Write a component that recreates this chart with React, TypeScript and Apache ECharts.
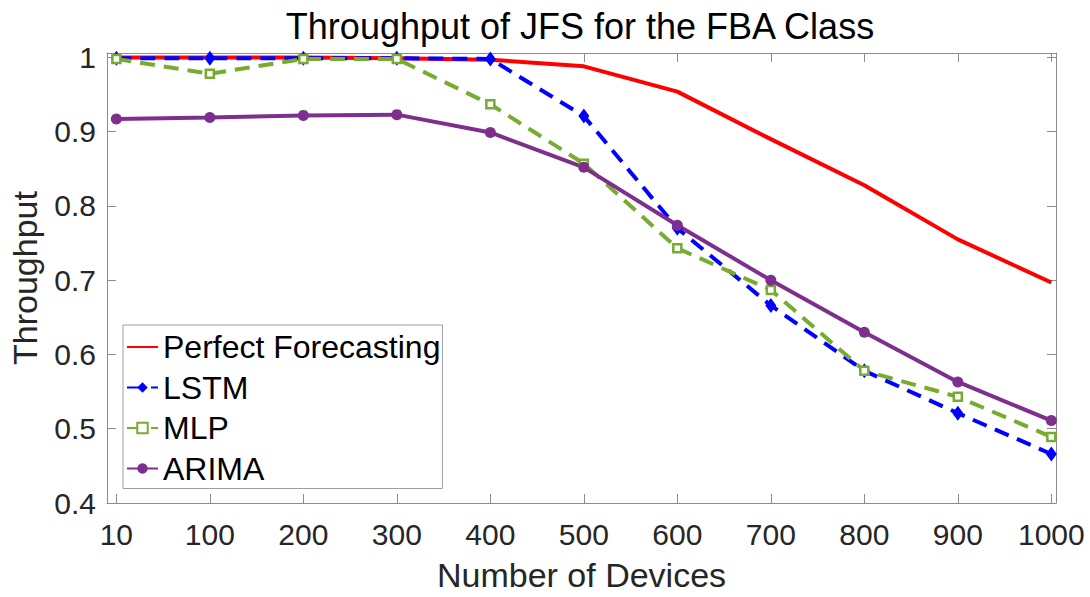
import React, { useEffect, useRef } from "react";
import * as echarts from "echarts";

// Device counts shown on the x axis (plotted at positions 1..11)
const deviceLabels = ["10", "100", "200", "300", "400", "500", "600", "700", "800", "900", "1000"];

// Throughput per forecasting method
const perfectForecasting = [1.0, 1.0, 1.0, 0.999, 0.997, 0.988, 0.954, 0.89, 0.828, 0.755, 0.697];
const lstm = [0.999, 0.999, 0.999, 0.999, 0.998, 0.921, 0.77, 0.666, 0.578, 0.521, 0.466];
const mlp = [0.998, 0.978, 0.998, 0.998, 0.937, 0.857, 0.743, 0.687, 0.578, 0.543, 0.489];
const arima = [0.917, 0.919, 0.922, 0.923, 0.899, 0.852, 0.774, 0.7, 0.63, 0.563, 0.511];

const yTicks = [0.4, 0.5, 0.6, 0.7, 0.8, 0.9, 1.0];
const xTicks = deviceLabels.map((_, i) => i + 1);

const FONT = "'Liberation Sans', Arial, Helvetica, sans-serif";
const AXIS_GRAY = "#8c8c8c";
const TEXT_DARK = "#262626";

const toPoints = (vals: number[]) => vals.map((v, i) => [i + 1, v]);

export default function App() {
  const ref = useRef<HTMLDivElement>(null);

  useEffect(() => {
    if (!ref.current) return;
    const chart = echarts.init(ref.current, undefined, { renderer: "svg" });

    const xRange = { min: 0.9, max: 11.05 };
    const yRange = { min: 0.4, max: 1.006 };

    const baseX = {
      type: "value" as const,
      ...xRange,
      splitLine: { show: false },
      axisLine: { show: true, onZero: false, lineStyle: { color: AXIS_GRAY, width: 1 } },
      axisTick: { show: true, inside: true, length: 9, customValues: xTicks, lineStyle: { color: AXIS_GRAY } },
    };
    const baseY = {
      type: "value" as const,
      ...yRange,
      splitLine: { show: false },
      axisLine: { show: true, onZero: false, lineStyle: { color: AXIS_GRAY, width: 1 } },
      axisTick: { show: true, inside: true, length: 9, customValues: yTicks, lineStyle: { color: AXIS_GRAY } },
    };

    chart.setOption({
      animation: false,
      backgroundColor: "#ffffff",
      grid: { left: 104, top: 53, width: 952, height: 453, containLabel: false },
      graphic: [
        {
          type: "text",
          x: 580,
          y: 26,
          style: {
            text: "Throughput of JFS for the FBA Class",
            font: `36px ${FONT}`,
            fill: "#000000",
            textAlign: "center",
            textVerticalAlign: "middle",
          },
        },
      ],
      xAxis: [
        {
          ...baseX,
          position: "bottom",
          name: "Number of Devices",
          nameLocation: "middle",
          nameGap: 55,
          nameTextStyle: { fontFamily: FONT, fontSize: 34, color: TEXT_DARK },
          axisLabel: {
            show: true,
            customValues: xTicks,
            margin: 16,
            fontFamily: FONT,
            fontSize: 30,
            color: TEXT_DARK,
            formatter: (v: number) => deviceLabels[Math.round(v) - 1] ?? "",
          },
        },
        {
          ...baseX,
          position: "top",
          axisLabel: { show: false },
        },
      ],
      yAxis: [
        {
          ...baseY,
          position: "left",
          name: "Throughput",
          nameLocation: "middle",
          nameGap: 65,
          nameTextStyle: { fontFamily: FONT, fontSize: 34, color: TEXT_DARK },
          axisLabel: {
            show: true,
            customValues: yTicks,
            margin: 11,
            fontFamily: FONT,
            fontSize: 30,
            color: TEXT_DARK,
            formatter: (v: number) => String(+v.toFixed(1)),
          },
        },
        {
          ...baseY,
          position: "right",
          axisLabel: { show: false },
        },
      ],
      legend: {
        orient: "vertical",
        left: 123,
        top: 325,
        padding: [6, 2, 4, 3],
        itemGap: 8.5,
        itemWidth: 31,
        itemHeight: 13,
        backgroundColor: "#ffffff",
        borderColor: "#a0a0a0",
        borderWidth: 1,
        borderRadius: 0,
        textStyle: { fontFamily: FONT, fontSize: 32, color: "#000000", lineHeight: 32 },
        data: [
          {
            name: "Perfect Forecasting",
            itemStyle: { color: "rgba(0,0,0,0)", borderWidth: 0, opacity: 0 },
          },
          "LSTM",
          "MLP",
          "ARIMA",
        ],
      },
      series: [
        {
          name: "Perfect Forecasting",
          type: "line",
          data: toPoints(perfectForecasting),
          symbol: "none",
          lineStyle: { color: "#ff0000", width: 4 },
          itemStyle: { color: "#ff0000" },
        },
        {
          name: "LSTM",
          type: "line",
          data: toPoints(lstm),
          symbol: "diamond",
          symbolSize: [11, 15],
          lineStyle: { color: "#0000ff", width: 4, type: [15, 9] },
          itemStyle: { color: "#0000ff" },
        },
        {
          name: "MLP",
          type: "line",
          data: toPoints(mlp),
          symbol: "rect",
          symbolSize: 8,
          lineStyle: { color: "#77ac30", width: 4, type: [15, 9] },
          itemStyle: { color: "#ffffff", borderColor: "#77ac30", borderWidth: 2.5 },
        },
        {
          name: "ARIMA",
          type: "line",
          data: toPoints(arima),
          symbol: "circle",
          symbolSize: 11,
          lineStyle: { color: "#7e2f8e", width: 4 },
          itemStyle: { color: "#7e2f8e" },
        },
      ],
    });

    return () => chart.dispose();
  }, []);

  return (
    <div
      ref={ref}
      style={{ position: "absolute", left: 0, top: 0, width: 1090, height: 597, background: "#ffffff" }}
    />
  );
}
